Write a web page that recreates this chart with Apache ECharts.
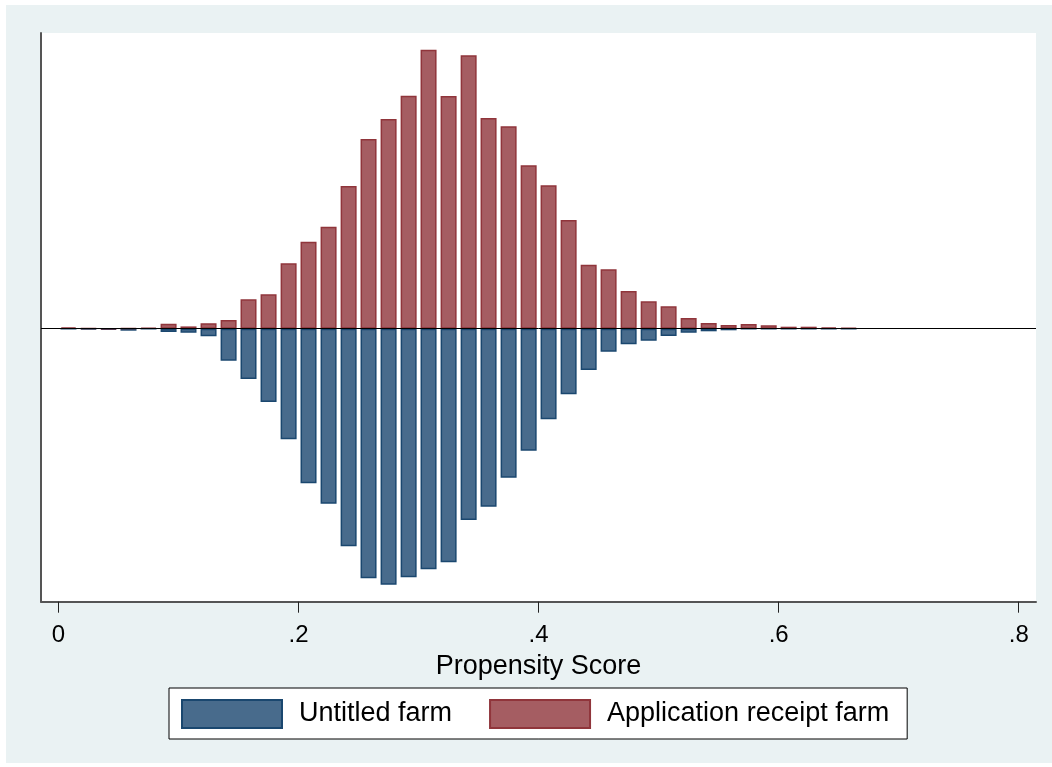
<!DOCTYPE html>
<html>
<head>
<meta charset="utf-8">
<script src="https://cdn.jsdelivr.net/npm/echarts@6/dist/echarts.min.js"></script>
<style>
  html, body { margin: 0; padding: 0; background: #ffffff; }
  #panel { position: absolute; left: 6px; top: 5px; right: 0; bottom: 4px; background: #EAF2F3; }
  #chart { position: absolute; left: 0; top: 0; width: 1052px; height: 767px; }
</style>
</head>
<body>
<div id="panel"></div>
<div id="chart"></div>
<script>
// Propensity score bins (bin midpoints, width 1/60)
const binCenters = [
  0.0083, 0.0250, 0.0417, 0.0583, 0.0750, 0.0917, 0.1083, 0.1250, 0.1417, 0.1583,
  0.1750, 0.1917, 0.2083, 0.2250, 0.2417, 0.2583, 0.2750, 0.2917, 0.3083, 0.3250,
  0.3417, 0.3583, 0.3750, 0.3917, 0.4083, 0.4250, 0.4417, 0.4583, 0.4750, 0.4917,
  0.5083, 0.5250, 0.5417, 0.5583, 0.5750, 0.5917, 0.6083, 0.6250, 0.6417, 0.6583
];

// Frequency per bin, untitled farms (drawn below the zero line)
const untitled = [
  0, 0.5, 1, 2, 0, 3.3, 4, 7.6, 32, 50.3,
  73.3, 110.6, 154.6, 175, 217.6, 249.6, 256, 248.6, 240.6, 233.6,
  191.3, 178, 149, 122, 90.6, 65.6, 41.3, 23, 15.6, 12,
  7.3, 4, 2.6, 1.6, 0, 0, 0, 0, 0, 0
];

// Frequency per bin, application receipt farms (drawn above the zero line)
const receipt = [
  1.5, 0.5, 0, 0.5, 1, 5, 2.3, 5.5, 8.7, 29.4,
  34.4, 65.4, 87, 102, 142.7, 189.7, 209.7, 233, 279, 232.7,
  273.4, 210.7, 202.4, 163.4, 143.4, 108.7, 64, 59.4, 37.7, 27.4,
  22.4, 10.7, 5.7, 3.7, 4.7, 3.4, 2, 2, 1.4, 0.8
];

const tickValues = [0, 0.2, 0.4, 0.6, 0.8];
const seriesNames = ['Untitled farm', 'Application receipt farm'];

const FONT = "'Liberation Sans', Arial, sans-serif";

const chart = echarts.init(document.getElementById('chart'), null, { renderer: 'canvas' });

chart.setOption({
  backgroundColor: 'transparent',
  animation: false,
  grid: {
    left: 41, top: 33, width: 995, height: 568.7,
    show: true, backgroundColor: '#ffffff', borderWidth: 0
  },
  xAxis: {
    type: 'value',
    min: -0.0146, max: 0.8144,
    name: 'Propensity Score',
    nameLocation: 'middle',
    nameGap: 46,
    nameTextStyle: { fontFamily: FONT, fontSize: 27, color: '#000' },
    axisLine: { show: true, onZero: false, lineStyle: { color: '#555', width: 2 } },
    axisTick: { show: true, customValues: tickValues, length: 11, lineStyle: { color: '#222', width: 1 } },
    axisLabel: {
      show: true, customValues: tickValues, margin: 22,
      fontFamily: FONT, fontSize: 24, color: '#000',
      formatter: v => (v === 0 ? '0' : String(+v.toFixed(2)).replace(/^0/, ''))
    },
    splitLine: { show: false }
  },
  yAxis: {
    type: 'value',
    min: -273, max: 295.7,
    axisLine: { show: true, onZero: false, lineStyle: { color: '#555', width: 2 } },
    axisTick: { show: false },
    axisLabel: { show: false },
    splitLine: { show: false }
  },
  legend: {
    data: seriesNames,
    left: 169, top: 688,
    orient: 'horizontal',
    itemWidth: 100, itemHeight: 28, itemGap: 37,
    icon: 'rect',
    padding: [11, 18, 10, 12],
    backgroundColor: '#ffffff',
    borderColor: '#000', borderWidth: 1,
    textStyle: { fontFamily: FONT, fontSize: 27, color: '#000', padding: [2, 0, 0, 12] }
  },
  series: [
    {
      name: seriesNames[0],
      type: 'bar',
      barWidth: 16,
      barGap: '-100%',
      itemStyle: { color: '#486B8C', borderColor: '#1A476F', borderWidth: 1.5 },
      data: binCenters.map((x, i) => [x, -untitled[i]])
    },
    {
      name: seriesNames[1],
      type: 'bar',
      barWidth: 16,
      barGap: '-100%',
      itemStyle: { color: '#A55D62', borderColor: '#90353B', borderWidth: 1.5 },
      data: binCenters.map((x, i) => [x, receipt[i]]),
      markLine: {
        silent: true,
        symbol: 'none',
        label: { show: false },
        lineStyle: { color: '#000', width: 1, type: 'solid' },
        data: [{ yAxis: 0 }]
      }
    }
  ]
});
</script>
</body>
</html>
